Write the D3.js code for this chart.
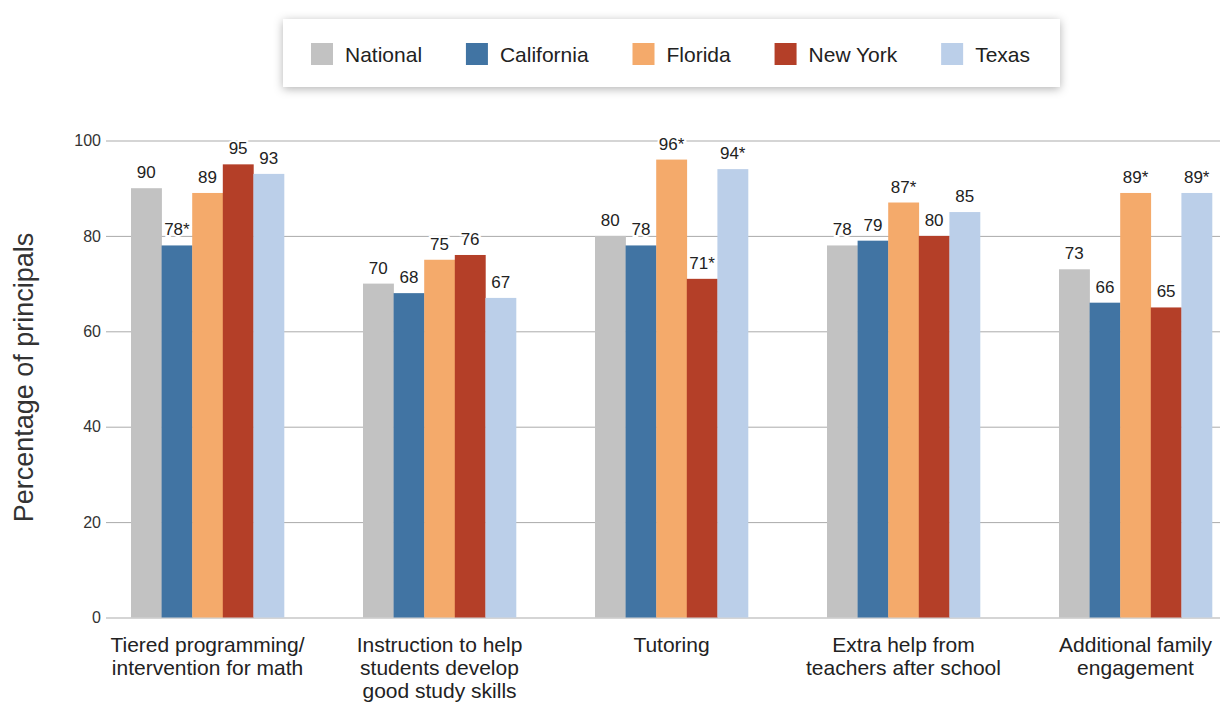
<!DOCTYPE html>
<html>
<head>
<meta charset="utf-8">
<script src="https://cdn.jsdelivr.net/npm/d3@7/dist/d3.min.js"></script>
<style>
  html, body { margin: 0; padding: 0; background: #fff; }
  svg { display: block; font-family: "Liberation Sans", Arial, Helvetica, sans-serif; }
</style>
</head>
<body>
<svg id="chart" width="1220" height="703"></svg>
<script>
// Category labels (one entry per line of text)
const categories = [
  ["Tiered programming/", "intervention for math"],
  ["Instruction to help", "students develop", "good study skills"],
  ["Tutoring"],
  ["Extra help from", "teachers after school"],
  ["Additional family", "engagement"]
];

const seriesNames = ["National", "California", "Florida", "New York", "Texas"];
const seriesColors = ["#c2c2c2", "#4174a3", "#f4aa6b", "#b43f28", "#bbcfe9"];

// Percentage of principals, per series, in category order
const national   = [90, 70, 80, 78, 73];
const california = [78, 68, 78, 79, 66];
const florida    = [89, 75, 96, 87, 89];
const newYork    = [95, 76, 71, 80, 65];
const texas      = [93, 67, 94, 85, 89];

// Statistically significant difference from national (marked with *)
const californiaSig = [true, false, false, false, false];
const floridaSig    = [false, false, true, true, true];
const newYorkSig    = [false, false, true, false, false];
const texasSig      = [false, false, true, false, true];
const nationalSig   = [false, false, false, false, false];

const yTicks = [0, 20, 40, 60, 80, 100];
const yTitle = "Percentage of principals";

const seriesValues = [national, california, florida, newYork, texas];
const seriesSig = [nationalSig, californiaSig, floridaSig, newYorkSig, texasSig];

const svg = d3.select("#chart");
const W = 1220;

const gridLeft = 106;
const x0 = d3.scaleBand()
  .domain(d3.range(categories.length))
  .range([131, 1212])
  .paddingInner(0.3405)
  .paddingOuter(0);
const x1 = d3.scaleBand()
  .domain(seriesNames)
  .range([0, x0.bandwidth()]);
const y = d3.scaleLinear().domain([0, 100]).range([617.5, 140.5]);
const color = d3.scaleOrdinal().domain(seriesNames).range(seriesColors);

// Gridlines and y tick labels
const yAxis = svg.append("g")
  .attr("transform", `translate(${gridLeft},0)`)
  .call(d3.axisLeft(y).tickValues(yTicks).tickSize(-(W - gridLeft)).tickPadding(5));
yAxis.select(".domain").remove();
yAxis.selectAll(".tick line").attr("stroke", "#ababab").attr("stroke-width", 1);
yAxis.selectAll(".tick text")
  .attr("fill", "#333")
  .style("font-size", "16px")
  .style("font-family", "'Liberation Sans', Arial, sans-serif");

// Y axis title
svg.append("text")
  .attr("transform", "translate(33,377.5) rotate(-90)")
  .attr("text-anchor", "middle")
  .attr("fill", "#333")
  .style("font-size", "27px")
  .text(yTitle);

// Bars
const rows = [];
categories.forEach((c, ci) => {
  seriesNames.forEach((s, si) => {
    rows.push({ ci, series: s, value: seriesValues[si][ci], sig: seriesSig[si][ci] });
  });
});

const groups = svg.append("g");
groups.selectAll("rect")
  .data(rows)
  .join("rect")
  .attr("x", d => x0(d.ci) + x1(d.series))
  .attr("y", d => y(d.value))
  .attr("width", x1.bandwidth() + 0.3)
  .attr("height", d => y(0) - y(d.value))
  .attr("fill", d => color(d.series));

// Value labels
svg.append("g").selectAll("text")
  .data(rows)
  .join("text")
  .attr("x", d => x0(d.ci) + x1(d.series) + x1.bandwidth() / 2)
  .attr("y", d => y(d.value) - 10)
  .attr("text-anchor", "middle")
  .attr("fill", "#222")
  .attr("stroke", "#fff")
  .attr("stroke-width", 4)
  .attr("paint-order", "stroke")
  .style("font-size", "17px")
  .text(d => d.value + (d.sig ? "*" : ""));

// Category labels
const catG = svg.append("g").selectAll("text")
  .data(categories)
  .join("text")
  .attr("text-anchor", "middle")
  .attr("fill", "#222")
  .style("font-size", "21px")
  .attr("transform", (d, i) => `translate(${x0(i) + x0.bandwidth() / 2},652)`);
catG.selectAll("tspan")
  .data(d => d)
  .join("tspan")
  .attr("x", 0)
  .attr("y", (d, i) => i * 23)
  .text(d => d);

// Legend
const defs = svg.append("defs");
const f = defs.append("filter").attr("id", "shadow")
  .attr("x", "-10%").attr("y", "-60%").attr("width", "120%").attr("height", "220%");
f.append("feDropShadow")
  .attr("dx", 0).attr("dy", 2)
  .attr("stdDeviation", 5)
  .attr("flood-color", "#000")
  .attr("flood-opacity", 0.3);

const legendBox = { x: 283, y: 19, w: 777, h: 68 };
svg.append("rect")
  .attr("x", legendBox.x).attr("y", legendBox.y)
  .attr("width", legendBox.w).attr("height", legendBox.h)
  .attr("fill", "#fff")
  .attr("filter", "url(#shadow)");

const legendG = svg.append("g");
const items = legendG.selectAll("g")
  .data(seriesNames)
  .join("g");
items.append("rect")
  .attr("width", 22).attr("height", 22)
  .attr("y", 43)
  .attr("fill", d => color(d));
items.append("text")
  .attr("x", 34)
  .attr("y", 62)
  .attr("fill", "#222")
  .style("font-size", "21px")
  .text(d => d);

// Spread legend items between the left and right padding of the box
const widths = [];
items.each(function () { widths.push(34 + d3.select(this).select("text").node().getComputedTextLength()); });
const startX = 311, endX = 1030;
const gap = (endX - startX - d3.sum(widths)) / (widths.length - 1);
let cx = startX;
items.attr("transform", (d, i) => {
  const t = `translate(${cx},0)`;
  cx += widths[i] + gap;
  return t;
});
</script>
</body>
</html>
